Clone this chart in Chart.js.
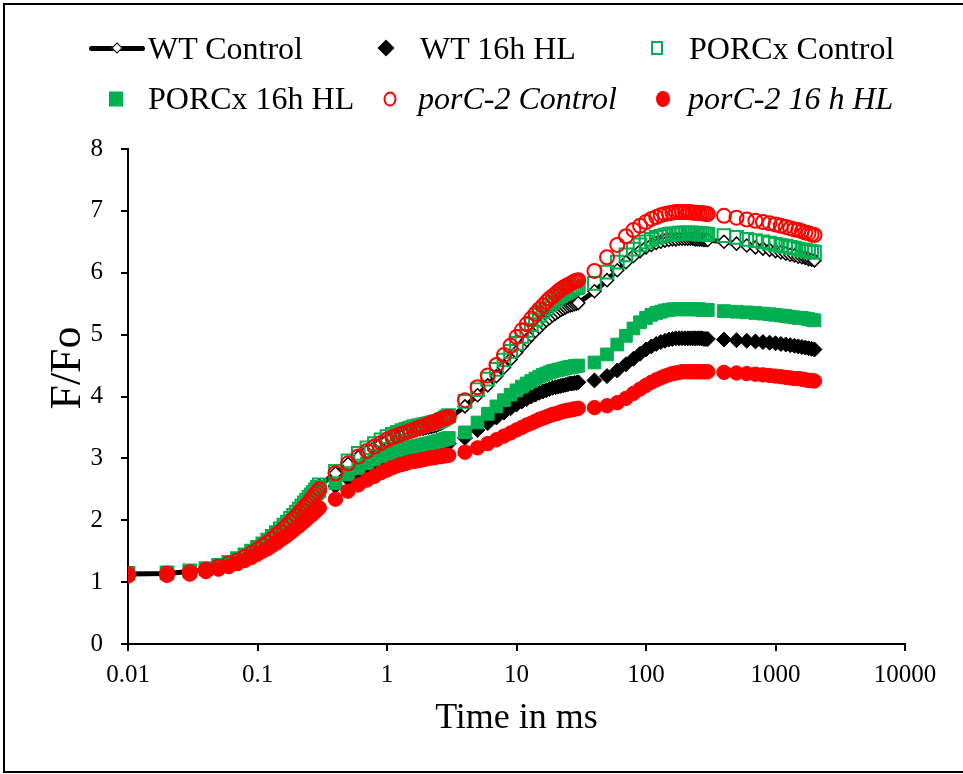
<!DOCTYPE html>
<html>
<head>
<meta charset="utf-8">
<script src="https://cdn.jsdelivr.net/npm/chart.js@4.4.0/dist/chart.umd.min.js"></script>
<style>
  body { margin: 0; background: #fff; overflow: hidden; }
  #wrap { position: relative; width: 963px; height: 774px; }
  #frame { position: absolute; left: 3px; top: 3px; width: 990px; height: 770px;
           border: 2px solid #000; box-sizing: border-box; pointer-events: none; }
  .lg-text { position: absolute; font-family: "Liberation Serif", "Times New Roman", serif;
             font-size: 32px; line-height: 32px; color: #000; white-space: nowrap; }
  .lg-text i { font-style: italic; }
  .sym { position: absolute; transform: translate(-50%, -50%); box-sizing: border-box; }
  .dia { transform: translate(-50%, -50%) rotate(45deg); }
  .lg-line { position: absolute; height: 5px; background: #000; border-radius: 3px; }
  #ytitle { position: absolute; left: 66px; top: 368px; white-space: nowrap;
            font-family: "Liberation Serif", "Times New Roman", serif; font-size: 44px; line-height: 44px;
            transform: translate(-50%, -50%) rotate(-90deg); }
</style>
</head>
<body>
<div id="wrap">
  <canvas id="chart" width="963" height="774"></canvas>

  <!-- legend, row 1 -->
  <div class="lg-line" style="left:89px;top:46px;width:56px"></div>
  <div class="sym dia" style="left:117px;top:48px;width:8px;height:8px;background:#fff;border:1.5px solid #000"></div>
  <span class="lg-text" style="left:148px;top:32px">WT Control</span>

  <div class="sym dia" style="left:386px;top:48px;width:12px;height:12px;background:#000"></div>
  <span class="lg-text" style="left:420px;top:32px">WT 16h HL</span>

  <div class="sym" style="left:657px;top:48px;width:12px;height:14px;border:2px solid #00B050"></div>
  <span class="lg-text" style="left:689px;top:32px">PORCx Control</span>

  <!-- legend, row 2 -->
  <div class="sym" style="left:116px;top:99px;width:14px;height:15px;background:#00B050"></div>
  <span class="lg-text" style="left:148px;top:82px">PORCx 16h HL</span>

  <div class="sym" style="left:390px;top:99px;width:13px;height:15px;border:2px solid #FF0000;border-radius:50%"></div>
  <span class="lg-text" style="left:418px;top:82px"><i>porC-2 Control</i></span>

  <div class="sym" style="left:663px;top:99px;width:14px;height:16px;background:#FF0000;border-radius:50%"></div>
  <span class="lg-text" style="left:688px;top:82px"><i>porC-2 16 h HL</i></span>

  <div id="ytitle">F/Fo</div>
  <div id="frame"></div>
</div>

<script>
// ----- Data (time in ms, F/Fo) -----
const times = [
  0.01, 0.02, 0.03, 0.04, 0.05, 0.06, 0.07, 0.08, 0.09, 0.1, 0.11, 0.12, 0.13, 0.14, 0.15,
  0.16, 0.17, 0.18, 0.19, 0.2, 0.21, 0.22, 0.23, 0.24, 0.25, 0.26, 0.27, 0.28, 0.29, 0.3,
  0.4, 0.5, 0.6, 0.7, 0.8, 0.9, 1, 1.1, 1.2, 1.3, 1.4, 1.5, 1.6, 1.7, 1.8, 1.9, 2, 2.1, 2.2,
  2.3, 2.4, 2.5, 2.6, 2.7, 2.8, 2.9, 3,
  4, 5, 6, 7, 8, 9, 10, 11, 12, 13, 14, 15, 16, 17, 18, 19, 20, 21, 22, 23, 24, 25, 26, 27,
  28, 29, 30,
  40, 50, 60, 70, 80, 90, 100, 110, 120, 130, 140, 150, 160, 170, 180, 190, 200, 210, 220,
  230, 240, 250, 260, 270, 280, 290, 300,
  400, 500, 600, 700, 800, 900, 1000, 1100, 1200, 1300, 1400, 1500, 1600, 1700, 1800, 1900, 2000
];

const wtControl = [
  1.13, 1.14, 1.17, 1.21, 1.26, 1.31, 1.37, 1.43, 1.49, 1.55, 1.61, 1.67, 1.73, 1.79, 1.85,
  1.91, 1.96, 2.02, 2.07, 2.12, 2.17, 2.22, 2.27, 2.31, 2.36, 2.40, 2.44, 2.48, 2.52, 2.56,
  2.76, 2.91, 3.02, 3.11, 3.18, 3.24, 3.29, 3.33, 3.36, 3.39, 3.41, 3.43, 3.45, 3.46, 3.47,
  3.48, 3.49, 3.50, 3.51, 3.52, 3.53, 3.55, 3.56, 3.58, 3.60, 3.62, 3.64,
  3.84, 4.02, 4.18, 4.33, 4.47, 4.60, 4.72, 4.82, 4.91, 4.99, 5.06, 5.12, 5.18, 5.23, 5.27,
  5.31, 5.34, 5.37, 5.40, 5.42, 5.44, 5.46, 5.47, 5.48, 5.49, 5.50, 5.51,
  5.70, 5.88, 6.04, 6.17, 6.27, 6.35, 6.41, 6.45, 6.48, 6.50, 6.52, 6.53, 6.54, 6.54, 6.55,
  6.55, 6.55, 6.55, 6.55, 6.55, 6.54, 6.54, 6.54, 6.54, 6.53, 6.53, 6.53,
  6.50, 6.47, 6.44, 6.41, 6.39, 6.37, 6.35, 6.33, 6.31, 6.29, 6.28, 6.26, 6.25, 6.24, 6.22, 6.21, 6.20
];

const wtHL = [
  1.13, 1.14, 1.17, 1.21, 1.26, 1.31, 1.37, 1.42, 1.48, 1.54, 1.60, 1.66, 1.71, 1.77, 1.82,
  1.87, 1.92, 1.97, 2.02, 2.07, 2.11, 2.15, 2.19, 2.23, 2.27, 2.31, 2.35, 2.38, 2.42, 2.45,
  2.55, 2.67, 2.76, 2.83, 2.89, 2.94, 2.98, 3.01, 3.04, 3.06, 3.08, 3.09, 3.10, 3.11, 3.12,
  3.13, 3.14, 3.15, 3.16, 3.17, 3.18, 3.19, 3.20, 3.21, 3.22, 3.23, 3.24,
  3.33, 3.46, 3.57, 3.66, 3.74, 3.81, 3.87, 3.92, 3.96, 4.00, 4.03, 4.06, 4.08, 4.10, 4.12,
  4.14, 4.15, 4.16, 4.17, 4.18, 4.19, 4.20, 4.21, 4.21, 4.22, 4.22, 4.23,
  4.26, 4.33, 4.42, 4.52, 4.61, 4.69, 4.76, 4.81, 4.85, 4.88, 4.90, 4.92, 4.93, 4.94, 4.94,
  4.94, 4.94, 4.94, 4.94, 4.94, 4.94, 4.94, 4.94, 4.94, 4.93, 4.93, 4.93,
  4.92, 4.91, 4.90, 4.89, 4.88, 4.87, 4.86, 4.85, 4.84, 4.83, 4.82, 4.81, 4.80, 4.79, 4.78, 4.77, 4.76
];

const porcxControl = [
  1.14, 1.15, 1.18, 1.22, 1.27, 1.32, 1.38, 1.44, 1.50, 1.56, 1.62, 1.68, 1.74, 1.80, 1.86,
  1.92, 1.97, 2.03, 2.08, 2.13, 2.18, 2.23, 2.28, 2.32, 2.37, 2.41, 2.45, 2.49, 2.53, 2.57,
  2.79, 2.96, 3.08, 3.17, 3.24, 3.30, 3.35, 3.39, 3.42, 3.45, 3.47, 3.49, 3.51, 3.52, 3.53,
  3.54, 3.55, 3.56, 3.57, 3.58, 3.59, 3.60, 3.62, 3.63, 3.65, 3.67, 3.69,
  3.92, 4.11, 4.28, 4.44, 4.59, 4.73, 4.86, 4.97, 5.07, 5.16, 5.24, 5.31, 5.37, 5.43, 5.48,
  5.52, 5.56, 5.60, 5.63, 5.66, 5.68, 5.70, 5.72, 5.74, 5.75, 5.76, 5.77,
  5.83, 6.01, 6.17, 6.29, 6.38, 6.45, 6.50, 6.54, 6.57, 6.59, 6.61, 6.62, 6.63, 6.63, 6.64,
  6.64, 6.64, 6.64, 6.64, 6.64, 6.64, 6.63, 6.63, 6.63, 6.63, 6.62, 6.62,
  6.60, 6.57, 6.54, 6.52, 6.50, 6.48, 6.46, 6.44, 6.43, 6.41, 6.40, 6.38, 6.37, 6.36, 6.35, 6.34, 6.33
];

const porcxHL = [
  1.13, 1.14, 1.17, 1.21, 1.26, 1.31, 1.37, 1.43, 1.49, 1.55, 1.61, 1.67, 1.72, 1.78, 1.83,
  1.89, 1.94, 1.99, 2.04, 2.08, 2.13, 2.17, 2.21, 2.25, 2.29, 2.33, 2.37, 2.40, 2.44, 2.47,
  2.60, 2.74, 2.84, 2.92, 2.98, 3.03, 3.07, 3.10, 3.13, 3.15, 3.17, 3.18, 3.19, 3.20, 3.21,
  3.22, 3.23, 3.24, 3.25, 3.26, 3.27, 3.28, 3.29, 3.30, 3.31, 3.32, 3.33,
  3.42, 3.58, 3.72, 3.84, 3.94, 4.03, 4.10, 4.16, 4.21, 4.25, 4.29, 4.32, 4.35, 4.37, 4.39,
  4.41, 4.42, 4.43, 4.44, 4.45, 4.46, 4.47, 4.48, 4.48, 4.49, 4.49, 4.50,
  4.55, 4.68, 4.84, 4.98, 5.10, 5.20, 5.27, 5.32, 5.35, 5.37, 5.39, 5.40, 5.41, 5.41, 5.41,
  5.41, 5.41, 5.41, 5.41, 5.41, 5.41, 5.41, 5.41, 5.40, 5.40, 5.40, 5.40,
  5.38, 5.37, 5.36, 5.35, 5.34, 5.33, 5.32, 5.31, 5.30, 5.29, 5.28, 5.27, 5.27, 5.26, 5.25, 5.24, 5.23
];

const porc2Control = [
  1.13, 1.14, 1.16, 1.20, 1.25, 1.30, 1.35, 1.41, 1.47, 1.53, 1.59, 1.64, 1.70, 1.76, 1.81,
  1.87, 1.92, 1.97, 2.02, 2.07, 2.12, 2.16, 2.21, 2.25, 2.29, 2.34, 2.38, 2.42, 2.46, 2.50,
  2.76, 2.92, 3.03, 3.12, 3.19, 3.25, 3.30, 3.34, 3.37, 3.40, 3.42, 3.44, 3.46, 3.48, 3.50,
  3.52, 3.54, 3.55, 3.57, 3.58, 3.60, 3.61, 3.63, 3.64, 3.65, 3.66, 3.67,
  3.94, 4.15, 4.34, 4.51, 4.67, 4.82, 4.96, 5.07, 5.17, 5.26, 5.34, 5.41, 5.47, 5.53, 5.58,
  5.62, 5.66, 5.70, 5.73, 5.76, 5.78, 5.80, 5.82, 5.84, 5.86, 5.87, 5.88,
  6.03, 6.25, 6.45, 6.59, 6.69, 6.76, 6.82, 6.87, 6.90, 6.93, 6.95, 6.96, 6.97, 6.98, 6.98,
  6.98, 6.98, 6.98, 6.98, 6.97, 6.97, 6.97, 6.96, 6.96, 6.96, 6.95, 6.95,
  6.92, 6.89, 6.86, 6.84, 6.82, 6.80, 6.78, 6.76, 6.74, 6.72, 6.70, 6.69, 6.67, 6.65, 6.64, 6.62, 6.61
];

const porc2HL = [
  1.10, 1.11, 1.13, 1.17, 1.21, 1.25, 1.30, 1.35, 1.40, 1.45, 1.50, 1.54, 1.59, 1.63, 1.68,
  1.72, 1.76, 1.80, 1.84, 1.88, 1.91, 1.95, 1.98, 2.02, 2.05, 2.08, 2.11, 2.14, 2.17, 2.20,
  2.34, 2.47, 2.57, 2.65, 2.71, 2.77, 2.81, 2.85, 2.88, 2.90, 2.92, 2.94, 2.95, 2.96, 2.97,
  2.98, 2.99, 3.00, 3.01, 3.01, 3.02, 3.03, 3.03, 3.04, 3.04, 3.05, 3.05,
  3.10, 3.17, 3.24, 3.30, 3.36, 3.41, 3.46, 3.50, 3.54, 3.57, 3.60, 3.63, 3.65, 3.67, 3.69,
  3.71, 3.72, 3.73, 3.75, 3.76, 3.77, 3.78, 3.78, 3.79, 3.80, 3.80, 3.81,
  3.82, 3.85, 3.90, 3.97, 4.05, 4.12, 4.18, 4.23, 4.27, 4.30, 4.33, 4.35, 4.37, 4.38, 4.39,
  4.40, 4.40, 4.40, 4.40, 4.40, 4.40, 4.40, 4.40, 4.40, 4.40, 4.40, 4.40,
  4.39, 4.38, 4.37, 4.36, 4.35, 4.34, 4.33, 4.32, 4.31, 4.30, 4.29, 4.29, 4.28, 4.27, 4.26, 4.26, 4.25
];

const xTicks = [0.01, 0.1, 1, 10, 100, 1000, 10000];
const yMin = 0;
const yMax = 8;

// ----- Chart -----
const GREEN = '#00B050';
const RED = '#FF0000';
const serif = '"Liberation Serif", "Times New Roman", serif';

function pts(vals) {
  return times.map((t, i) => ({ x: t, y: vals[i] }));
}

// excel draws the first series at the bottom, so lower "order" = on top here
const datasets = [
  {
    label: 'WT Control', data: pts(wtControl), order: 6,
    showLine: true, borderColor: '#000', borderWidth: 5,
    pointStyle: 'rectRot', pointRadius: 6.5,
    pointBackgroundColor: '#fff', pointBorderColor: '#000', pointBorderWidth: 1.5
  },
  {
    label: 'WT 16h HL', data: pts(wtHL), order: 5,
    pointStyle: 'rectRot', pointRadius: 7.5,
    pointBackgroundColor: '#000', pointBorderColor: '#000', pointBorderWidth: 1
  },
  {
    label: 'PORCx Control', data: pts(porcxControl), order: 4,
    pointStyle: 'rect', pointRadius: 9,
    pointBackgroundColor: 'rgba(0,0,0,0)', pointBorderColor: GREEN, pointBorderWidth: 2
  },
  {
    label: 'PORCx 16h HL', data: pts(porcxHL), order: 3,
    pointStyle: 'rect', pointRadius: 9,
    pointBackgroundColor: GREEN, pointBorderColor: GREEN, pointBorderWidth: 1
  },
  {
    label: 'porC-2 Control', data: pts(porc2Control), order: 2,
    pointStyle: 'circle', pointRadius: 7,
    pointBackgroundColor: 'rgba(0,0,0,0)', pointBorderColor: RED, pointBorderWidth: 2
  },
  {
    label: 'porC-2 16 h HL', data: pts(porc2HL), order: 1,
    pointStyle: 'circle', pointRadius: 7.2,
    pointBackgroundColor: RED, pointBorderColor: RED, pointBorderWidth: 1
  }
];

const ctx = document.getElementById('chart').getContext('2d');
new Chart(ctx, {
  type: 'scatter',
  data: { datasets: datasets },
  options: {
    responsive: false,
    animation: false,
    events: [],
    layout: { padding: { top: 149, right: 58, left: 0, bottom: 0 } },
    plugins: { legend: { display: false }, tooltip: { enabled: false } },
    scales: {
      x: {
        type: 'logarithmic',
        min: 0.01,
        max: 10000,
        afterBuildTicks: (scale) => {
          scale.ticks = xTicks.map((v) => ({ value: v }));
        },
        afterFit: (scale) => { scale.height = 130; },
        border: { display: true, color: '#000', width: 2 },
        grid: { drawOnChartArea: false, drawTicks: true, tickLength: 7, color: '#000', lineWidth: 2 },
        ticks: {
          color: '#000',
          font: { family: serif, size: 25 },
          padding: 9,
          maxRotation: 0,
          autoSkip: false,
          callback: (v) => String(v)
        },
        title: {
          display: true,
          text: 'Time in ms',
          color: '#000',
          font: { family: serif, size: 36, lineHeight: 1 },
          padding: { top: 0, bottom: 37 }
        }
      },
      y: {
        min: yMin,
        max: yMax,
        afterFit: (scale) => { scale.width = 128; },
        border: { display: true, color: '#000', width: 2 },
        grid: { drawOnChartArea: false, drawTicks: true, tickLength: 7, color: '#000', lineWidth: 2 },
        ticks: {
          stepSize: 1,
          color: '#000',
          font: { family: serif, size: 25 },
          padding: 18
        }
      }
    }
  }
});
</script>
</body>
</html>
